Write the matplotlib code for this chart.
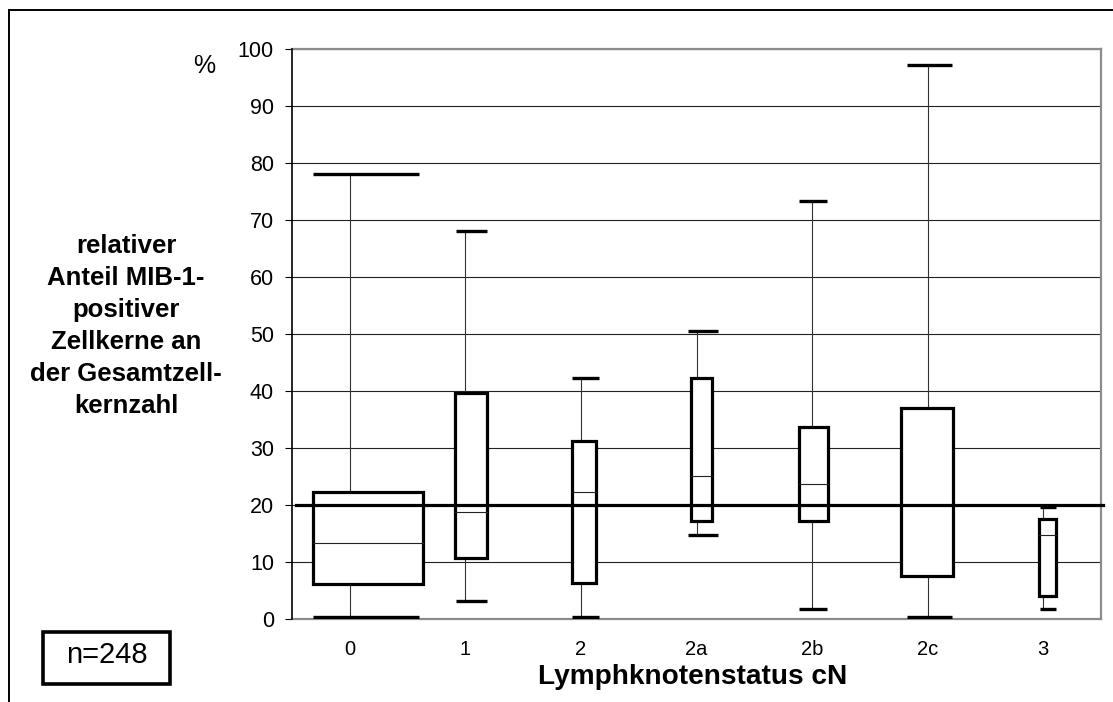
import matplotlib
matplotlib.use("Agg")
import matplotlib.pyplot as plt
from matplotlib.patches import Rectangle
from matplotlib.lines import Line2D
import numpy as np

plt.rcParams['font.family'] = ['Liberation Sans', 'DejaVu Sans']

# MIB-1 index per lymph node status (percent)
categories = ["0", "1", "2", "2a", "2b", "2c", "3"]
whisker_low = [0.4, 3.2, 0.4, 14.8, 1.8, 0.4, 1.8]
q1 = [6.1, 10.7, 6.3, 17.2, 17.2, 7.6, 4.1]
median = [13.4, 18.7, 22.2, 25.1, 23.7, 20.0, 14.8]
q3 = [22.3, 39.6, 31.3, 42.2, 33.7, 37.1, 17.5]
whisker_high = [78.1, 68.1, 42.2, 50.5, 73.3, 97.2, 19.7]
reference_value = 20
n_total = 248

# box and cap extents relative to the category centre (category units)
box_left = [-0.32, -0.09, -0.08, -0.05, -0.11, -0.23, -0.04]
box_right = [0.63, 0.19, 0.13, 0.13, 0.14, 0.22, 0.11]
cap_left = [-0.32, -0.08, -0.08, -0.07, -0.11, -0.18, -0.03]
cap_right = [0.60, 0.19, 0.16, 0.19, 0.13, 0.21, 0.11]

W, H = 1113, 702
fig = plt.figure(figsize=(W / 100, H / 100), dpi=100)
ax = fig.add_axes([292 / W, 1 - 619 / H, 809 / W, 570 / H])

x = np.arange(len(categories))
for i in x:
    ax.plot([i, i], [whisker_low[i], whisker_high[i]], color='#333333', lw=0.8, zorder=2)
    for v in (whisker_low[i], whisker_high[i]):
        ax.plot([i + cap_left[i], i + cap_right[i]], [v, v], color='black', lw=2.4,
                solid_capstyle='butt', zorder=3)
    ax.add_patch(Rectangle((i + box_left[i], q1[i]), box_right[i] - box_left[i], q3[i] - q1[i],
                           facecolor='white', edgecolor='black', lw=2.3, zorder=4))
    ax.plot([i + box_left[i], i + box_right[i]], [median[i], median[i]], color='#222222',
            lw=0.8, zorder=5)

ax.axhline(reference_value, color='black', lw=2.3, zorder=6, xmin=0.005, xmax=1.003, clip_on=False)

ax.set_xlim(-0.5, len(categories) - 0.5)
ax.set_ylim(0, 100)
ax.set_yticks(np.arange(0, 101, 10))
ax.set_xticks(x)
ax.set_xticklabels(categories)
ax.yaxis.grid(True, color='#222222', lw=0.8, zorder=1)
ax.set_axisbelow(True)
ax.tick_params(axis='y', direction='out', length=5, width=0.8, labelsize=15.5, pad=8)
ax.tick_params(axis='x', length=0, labelsize=14.5, pad=15)

for side in ('top', 'right', 'bottom'):
    ax.spines[side].set_color('#8c8c8c')
    ax.spines[side].set_linewidth(1.6)
ax.spines['left'].set_color('black')
ax.spines['left'].set_linewidth(1.2)
ax.spines['left'].set_zorder(7)

fig.text(204 / W, 1 - 73 / H, "%", fontsize=18, ha='center', va='baseline')
fig.text(126 / W, 1 - 326 / H,
         "relativer\nAnteil MIB-1-\npositiver\nZellkerne an\nder Gesamtzell-\nkernzahl",
         fontsize=18.5, fontweight='bold', ha='center', va='center', linespacing=1.42)
fig.text(693 / W, 1 - 684 / H, "Lymphknotenstatus cN", fontsize=20.2, fontweight='bold',
         ha='center', va='baseline')

# sample size box
fig.patches.append(Rectangle((43 / W, 1 - 684 / H), 127 / W, 52 / H, transform=fig.transFigure,
                             facecolor='white', edgecolor='black', lw=2.6))
fig.text(106.5 / W, 1 - 663 / H, f"n={n_total}", fontsize=21, ha='center', va='baseline')

# outer frame (top and left edges)
fig.add_artist(Line2D([8.5 / W, 8.5 / W], [0, 1 - 9.5 / H], color='black', lw=1.4,
                      transform=fig.transFigure))
fig.add_artist(Line2D([8.5 / W, 1], [1 - 9.5 / H, 1 - 9.5 / H], color='black', lw=1.4,
                      transform=fig.transFigure))

fig.savefig("out.png", dpi=100)
